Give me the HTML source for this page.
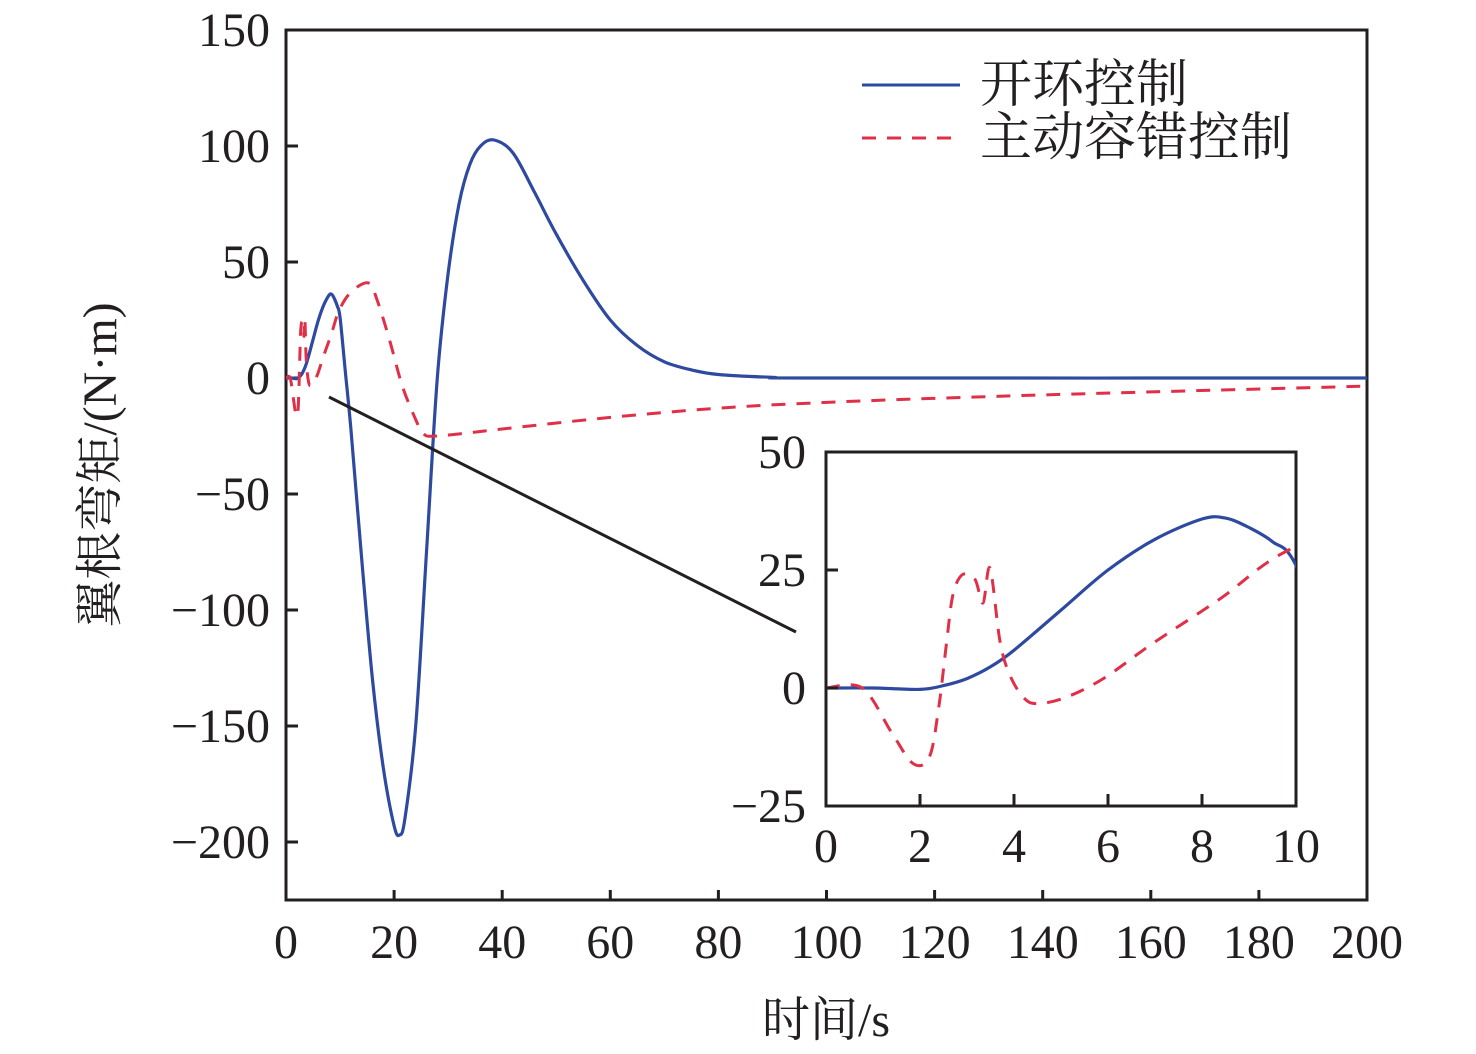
<!DOCTYPE html>
<html><head><meta charset="utf-8"><style>
body{margin:0;background:#fff}
svg{display:block}
text{font-family:"Liberation Serif",serif;fill:#231f20}
.cjk{font-family:"Liberation Serif","Noto Serif CJK SC",serif}
</style></head><body>
<svg id="c" width="1476" height="1054" viewBox="0 0 1476 1054"></svg>
<script>
const xTicks=[0,20,40,60,80,100,120,140,160,180,200];
const yTicks=[150,100,50,0,-50,-100,-150,-200];
const yTickLabels=["150","100","50","0","\u221250","\u2212100","\u2212150","\u2212200"];
const openT=[0,1,2,2.5,3,3.5,4,5,6,7,8,8.5,9,9.5,10,11,12,14,16,18,20,21,22,24,26,28,30,32,34,36,38.5,42,46,50,55,60,65,70,75,80,90,100,200];
const openV=[0,0,-0.3,0.5,2,4.5,8,16.5,25,31.5,35.8,36,34,31,26,2,-22,-78,-130,-168,-193,-197,-190,-150,-75,0,45,75,92,100,102.6,97,80,62,42,25,14,7,3.5,1.5,0.3,0,0];
const ftcT=[0,0.77,1.4,1.85,2.2,2.4,2.57,2.7,2.9,3.17,3.34,3.49,3.7,3.9,4.2,4.5,5.1,5.9,6.96,8.4,9.8,12,15.2,16.8,19.2,21.6,24.2,25.4,28,40,60,80,100,130,160,200];
const ftcV=[0,0,-9.5,-16,-14.6,-4,10,19.7,24,23,18,25.4,10,3,-2,-3.3,-2,2,9.5,19,29,37,41,34,16,-4,-19,-24,-25,-22,-17,-13,-10.5,-8,-6,-3.5];
const inXTicks=[0,2,4,6,8,10];
const inYTicks=[50,25,0,-25];
const inYTickLabels=["50","25","0","\u221225"];

const svg=document.getElementById('c');
const NS='http://www.w3.org/2000/svg';
function mk(tag,attrs,parent){const e=document.createElementNS(NS,tag);for(const k in attrs)e.setAttribute(k,attrs[k]);(parent||svg).appendChild(e);return e;}
const X=t=>286+(t/200)*1081, Y=v=>378-v*116/50;
const IX=t=>826+t*47, IY=v=>688-v*4.72;
function spline(pts){let d='M'+pts[0][0].toFixed(1)+','+pts[0][1].toFixed(1);
 for(let i=0;i<pts.length-1;i++){const p0=pts[Math.max(0,i-1)],p1=pts[i],p2=pts[i+1],p3=pts[Math.min(pts.length-1,i+2)];
  const c1=[p1[0]+(p2[0]-p0[0])/6,p1[1]+(p2[1]-p0[1])/6],c2=[p2[0]-(p3[0]-p1[0])/6,p2[1]-(p3[1]-p1[1])/6];
  d+='C'+c1.map(n=>n.toFixed(1))+' '+c2.map(n=>n.toFixed(1))+' '+p2.map(n=>n.toFixed(1));}
 return d;}

const ax=mk('g',{});


mk('rect',{x:286,y:30,width:1081,height:870,fill:'none',stroke:'#231f20','stroke-width':3},ax);
xTicks.forEach(t=>{mk('line',{x1:X(t),x2:X(t),y1:900,y2:890,stroke:'#231f20','stroke-width':3},ax);
 const tx=mk('text',{x:X(t),y:958,'font-size':48,'text-anchor':'middle'},ax);tx.textContent=t;
 
 });
yTicks.forEach((v,i)=>{mk('line',{x1:286,x2:298,y1:Y(v),y2:Y(v),stroke:'#231f20','stroke-width':3},ax);
 const tx=mk('text',{x:270,y:Y(v)+16,'font-size':48,'text-anchor':'end'},ax);tx.textContent=yTickLabels[i];
 
 });
const xl=mk('text',{x:826,y:1036,'font-size':48,'text-anchor':'middle','class':'cjk'});xl.textContent='时间/s';


const yl=mk('text',{x:0,y:0,'font-size':48,'text-anchor':'middle','class':'cjk',transform:'translate(116,465) rotate(-90)'});yl.textContent='翼根弯矩/(N·m)';



const p1=mk('path',{d:spline(openT.map((t,i)=>[X(t),Y(openV[i])])),fill:'none',stroke:'#2e4aa0','stroke-width':3.2});


const p2=mk('path',{d:spline(ftcT.map((t,i)=>[X(t),Y(ftcV[i])])),fill:'none',stroke:'#e03048','stroke-width':3,'stroke-dasharray':'14 11'});



const cl=mk('line',{x1:329,y1:397,x2:796,y2:632,stroke:'#231f20','stroke-width':3});



const lg=mk('g',{});


mk('line',{x1:862,x2:960,y1:85,y2:85,stroke:'#2e4aa0','stroke-width':3},lg);
const l1=mk('text',{x:980,y:102,'font-size':52,'class':'cjk'},lg);l1.textContent='开环控制';


mk('line',{x1:862,x2:960,y1:138,y2:138,stroke:'#e03048','stroke-width':3,'stroke-dasharray':'14 11'},lg);
const l2=mk('text',{x:980,y:155,'font-size':52,'class':'cjk'},lg);l2.textContent='主动容错控制';



const ig=mk('g',{});


mk('rect',{x:826,y:452,width:470,height:354,fill:'#fff',stroke:'#231f20','stroke-width':3},ig);
const cp=mk('clipPath',{id:'ic'},ig);mk('rect',{x:826,y:452,width:470,height:354},cp);
const no=openT.filter(t=>t<=10).length;
const ip1=mk('path',{d:spline(openT.slice(0,no+1).map((t,i)=>[IX(t),IY(openV[i])])),fill:'none',stroke:'#2e4aa0','stroke-width':3.2,'clip-path':'url(#ic)'},ig);


const n=ftcT.filter(t=>t<=10).length;
const ip2=mk('path',{d:spline(ftcT.slice(0,n+1).map((t,i)=>[IX(t),IY(ftcV[i])])),fill:'none',stroke:'#e03048','stroke-width':3,'stroke-dasharray':'14 11','clip-path':'url(#ic)'},ig);


inXTicks.forEach(t=>{mk('line',{x1:IX(t),x2:IX(t),y1:806,y2:794,stroke:'#231f20','stroke-width':3},ig);
 const tx=mk('text',{x:IX(t),y:862,'font-size':48,'text-anchor':'middle'},ig);tx.textContent=t;
 
 });
inYTicks.forEach((v,i)=>{mk('line',{x1:826,x2:838,y1:IY(v),y2:IY(v),stroke:'#231f20','stroke-width':3},ig);
 const tx=mk('text',{x:806,y:IY(v)+16,'font-size':48,'text-anchor':'end'},ig);tx.textContent=inYTickLabels[i];
 
 });
</script>
</body></html>
